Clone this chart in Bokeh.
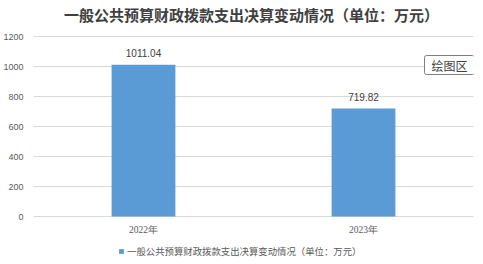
from bokeh.plotting import figure
from bokeh.models import Range1d, FactorRange, FixedTicker, Label, Legend, LegendItem, ColumnDataSource
from bokeh.embed import file_html
from bokeh.resources import INLINE

categories = ["2022年", "2023年"]
values = [1011.04, 719.82]
value_labels = ["1011.04", "719.82"]
y_ticks = [0, 200, 400, 600, 800, 1000, 1200]
title_text = "一般公共预算财政拨款支出决算变动情况（单位：万元）"
series_name = "一般公共预算财政拨款支出决算变动情况（单位：万元）"
tip_text = "绘图区"

CJK = "Noto Sans CJK SC"

# frame covers the whole canvas height; 0.15 px per unit, 1200 at y=36, 0 at y=216
p = figure(width=483, height=264, output_backend="svg", toolbar_location=None,
           x_range=FactorRange(*categories, range_padding=0),
           y_range=Range1d(-320, 1440),
           min_border_left=33, min_border_right=10, min_border_top=0, min_border_bottom=0)
p.outline_line_color = None
p.background_fill_color = "white"
p.border_fill_color = "white"

src = ColumnDataSource(dict(x=categories, top=values, lab=value_labels))
r = p.vbar(x="x", top="top", width=0.29, source=src, fill_color="#5b9bd5", line_color=None)
p.text(x="x", y="top", text="lab", source=src, y_offset=-8, text_align="center",
       text_baseline="bottom", text_font_size="10px", text_color="#404040")

# category labels below the baseline
cat_src = ColumnDataSource(dict(x=categories, y=[-93] * len(categories), t=categories))
p.text(x="x", y="y", text="t", source=cat_src, text_align="center", text_baseline="middle",
       text_font=CJK, text_font_size="9.5px", text_color="#595959")

p.xaxis.visible = False
p.yaxis.ticker = FixedTicker(ticks=y_ticks)
p.yaxis.axis_line_color = None
p.yaxis.major_tick_line_color = None
p.yaxis.minor_tick_line_color = None
p.yaxis.major_label_text_font_size = "9px"
p.yaxis.major_label_text_color = "#595959"
p.yaxis.major_label_standoff = 4

p.xgrid.grid_line_color = None
p.ygrid.ticker = FixedTicker(ticks=y_ticks)
p.ygrid.grid_line_color = "#d9d9d9"

title = Label(x=218, y=250, x_units="screen", y_units="screen", text=title_text,
              text_align="center", text_baseline="middle",
              text_font=CJK, text_font_size="15px", text_font_style="bold",
              text_color="#404040")
p.add_layout(title)

legend = Legend(items=[LegendItem(label=series_name, renderers=[r])],
                orientation="horizontal", location=(85, 6),
                label_text_font=CJK, label_text_font_size="9.4px", label_text_color="#595959",
                glyph_width=6, glyph_height=6, padding=0, margin=0, border_line_color=None,
                background_fill_alpha=0, label_standoff=3, label_height=10, spacing=0)
p.add_layout(legend)

tip = Label(x=391, y=190, x_units="screen", y_units="screen", text=tip_text,
            text_font=CJK, text_font_size="12px", text_color="#404040",
            border_line_color="#7f7f7f", border_line_alpha=1.0,
            background_fill_color="white", background_fill_alpha=1.0,
            padding=(7, 1), border_radius=2)
p.add_layout(tip)

open("out.html", "w").write(file_html(p, INLINE))
